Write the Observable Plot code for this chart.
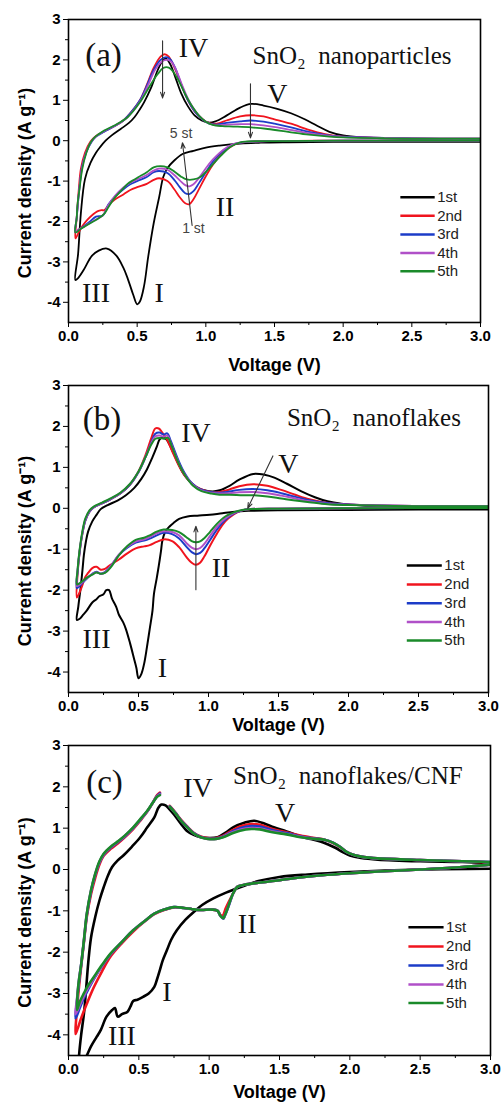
<!DOCTYPE html>
<html><head><meta charset="utf-8">
<script src="https://cdn.jsdelivr.net/npm/d3@7"></script>
<script src="https://cdn.jsdelivr.net/npm/@observablehq/plot@0.6"></script>
<style>body{margin:0;background:#fff;} #chart{width:502px;} #chart svg{display:block;overflow:visible;}</style>
</head><body><div id="chart"></div>
<script>
const cycles = ["1st", "2nd", "3rd", "4th", "5th"];
const cycleColors = ["#000000", "#f0141e", "#1c3cc8", "#b050c8", "#1a8a2a"];
const xTicks = [0, 0.5, 1.0, 1.5, 2.0, 2.5, 3.0];
const xMinorTicks = [0.25, 0.75, 1.25, 1.75, 2.25, 2.75];
const yTicks = [3, 2, 1, 0, -1, -2, -3, -4];
const yMinorTicks = [2.5, 1.5, 0.5, -0.5, -1.5, -2.5, -3.5];

// ---------- Panel (a) SnO2 nanoparticles: [voltage V, current density A/g]
const a1 = [[3.0,-0.03],[2.5,-0.03],[2.0,-0.03],[1.6,-0.04],[1.4,-0.05],[1.25,-0.07],[1.1,-0.12],[1.0,-0.17],[0.91,-0.25],[0.83,-0.33],[0.77,-0.49],[0.72,-0.68],[0.69,-0.9],[0.66,-1.4],[0.62,-2.05],[0.58,-2.88],[0.55,-3.6],[0.52,-3.98],[0.5,-4.05],[0.47,-3.8],[0.43,-3.4],[0.4,-3.15],[0.35,-2.85],[0.28,-2.67],[0.22,-2.72],[0.17,-2.85],[0.11,-3.2],[0.07,-3.4],[0.05,-3.45],
  [0.07,-2.8],[0.09,-1.8],[0.12,-0.95],[0.16,-0.55],[0.2,-0.3],[0.23,-0.16],[0.27,0.0],[0.31,0.12],[0.38,0.29],[0.44,0.44],[0.48,0.58],[0.52,0.78],[0.55,0.95],[0.6,1.3],[0.65,1.75],[0.69,2.0],[0.71,2.03],[0.74,1.9],[0.78,1.55],[0.82,1.18],[0.87,0.85],[0.92,0.62],[0.97,0.5],[1.02,0.45],[1.07,0.48],[1.15,0.62],[1.25,0.82],[1.33,0.91],[1.42,0.87],[1.52,0.79],[1.62,0.68],[1.72,0.53],[1.81,0.37],[1.9,0.22],[2.0,0.13],[2.15,0.08],[2.4,0.05],[2.7,0.04],[3.0,0.04]];
const a2 = [[3.0,0.0],[2.5,0.0],[2.0,0.0],[1.5,-0.01],[1.3,-0.03],[1.22,-0.08],[1.16,-0.2],[1.1,-0.38],[1.05,-0.6],[1.0,-0.88],[0.95,-1.2],[0.91,-1.45],[0.88,-1.57],[0.85,-1.55],[0.81,-1.4],[0.77,-1.2],[0.72,-1.0],[0.66,-0.93],[0.62,-0.97],[0.57,-1.07],[0.5,-1.15],[0.45,-1.22],[0.4,-1.33],[0.34,-1.45],[0.29,-1.6],[0.26,-1.72],[0.24,-1.72],[0.21,-1.75],[0.18,-1.82],[0.14,-1.95],[0.1,-2.12],[0.07,-2.3],[0.05,-2.42],
  [0.06,-1.9],[0.075,-1.2],[0.09,-0.7],[0.12,-0.3],[0.16,-0.02],[0.2,0.12],[0.26,0.23],[0.33,0.35],[0.4,0.5],[0.46,0.72],[0.52,1.0],[0.57,1.38],[0.62,1.8],[0.67,2.08],[0.7,2.14],[0.73,2.08],[0.77,1.82],[0.82,1.4],[0.87,1.0],[0.92,0.72],[0.97,0.55],[1.02,0.44],[1.08,0.42],[1.15,0.5],[1.25,0.6],[1.33,0.63],[1.42,0.6],[1.5,0.53],[1.62,0.42],[1.75,0.27],[1.86,0.17],[2.0,0.1],[2.3,0.07],[2.7,0.05],[3.0,0.05]];
const a3 = [[3.0,0.0],[2.0,0.0],[1.5,-0.01],[1.3,-0.03],[1.22,-0.07],[1.16,-0.17],[1.1,-0.33],[1.05,-0.52],[1.0,-0.78],[0.95,-1.05],[0.91,-1.25],[0.88,-1.32],[0.85,-1.3],[0.81,-1.15],[0.77,-0.97],[0.72,-0.8],[0.66,-0.75],[0.62,-0.78],[0.57,-0.9],[0.5,-1.0],[0.45,-1.08],[0.4,-1.2],[0.34,-1.38],[0.29,-1.58],[0.25,-1.85],[0.2,-1.88],[0.15,-2.02],[0.1,-2.15],[0.07,-2.22],[0.05,-2.27],
  [0.06,-1.9],[0.07,-1.5],[0.085,-1.0],[0.1,-0.62],[0.13,-0.28],[0.17,-0.02],[0.2,0.1],[0.26,0.22],[0.33,0.35],[0.4,0.5],[0.46,0.72],[0.52,1.0],[0.57,1.36],[0.62,1.75],[0.67,2.0],[0.71,2.07],[0.74,2.02],[0.78,1.78],[0.82,1.4],[0.87,1.0],[0.92,0.72],[0.97,0.54],[1.02,0.43],[1.08,0.4],[1.15,0.44],[1.25,0.48],[1.33,0.5],[1.42,0.47],[1.5,0.42],[1.62,0.33],[1.75,0.22],[1.88,0.14],[2.0,0.1],[2.3,0.07],[2.7,0.05],[3.0,0.05]];
const a4 = [[3.0,0.0],[2.0,0.0],[1.5,-0.01],[1.3,-0.03],[1.22,-0.06],[1.16,-0.15],[1.1,-0.3],[1.05,-0.47],[1.0,-0.68],[0.95,-0.92],[0.91,-1.08],[0.88,-1.13],[0.85,-1.1],[0.81,-0.98],[0.77,-0.85],[0.72,-0.72],[0.66,-0.69],[0.62,-0.74],[0.57,-0.85],[0.5,-0.96],[0.45,-1.04],[0.4,-1.16],[0.34,-1.36],[0.29,-1.6],[0.25,-1.85],[0.2,-1.95],[0.15,-2.05],[0.1,-2.15],[0.07,-2.2],[0.05,-2.25],
  [0.06,-1.9],[0.07,-1.5],[0.085,-1.0],[0.1,-0.65],[0.13,-0.28],[0.165,-0.03],[0.2,0.1],[0.26,0.24],[0.33,0.36],[0.42,0.55],[0.48,0.78],[0.53,1.02],[0.58,1.38],[0.63,1.75],[0.68,1.96],[0.72,2.0],[0.75,1.95],[0.79,1.7],[0.83,1.35],[0.88,0.97],[0.93,0.7],[0.98,0.52],[1.03,0.42],[1.09,0.38],[1.16,0.4],[1.25,0.41],[1.33,0.41],[1.42,0.38],[1.52,0.33],[1.63,0.26],[1.76,0.18],[1.9,0.12],[2.0,0.09],[2.3,0.07],[2.7,0.05],[3.0,0.05]];
const a5 = [[3.0,0.0],[2.0,0.0],[1.5,-0.01],[1.3,-0.02],[1.25,-0.04],[1.18,-0.15],[1.11,-0.37],[1.06,-0.55],[1.01,-0.74],[0.96,-0.9],[0.91,-0.96],[0.86,-0.96],[0.82,-0.89],[0.77,-0.76],[0.72,-0.66],[0.67,-0.63],[0.62,-0.66],[0.57,-0.78],[0.51,-0.9],[0.47,-0.98],[0.43,-1.07],[0.38,-1.25],[0.33,-1.44],[0.29,-1.65],[0.26,-1.81],[0.22,-1.92],[0.18,-2.0],[0.13,-2.1],[0.09,-2.18],[0.05,-2.27],
  [0.06,-1.9],[0.065,-1.6],[0.08,-1.2],[0.1,-0.7],[0.13,-0.3],[0.16,-0.05],[0.19,0.08],[0.26,0.25],[0.33,0.37],[0.43,0.58],[0.52,0.95],[0.6,1.4],[0.65,1.65],[0.69,1.8],[0.73,1.81],[0.76,1.72],[0.8,1.5],[0.85,1.15],[0.9,0.85],[0.95,0.62],[1.0,0.47],[1.05,0.39],[1.12,0.36],[1.2,0.35],[1.33,0.33],[1.45,0.29],[1.6,0.22],[1.75,0.15],[1.9,0.1],[2.0,0.08],[2.3,0.06],[2.7,0.05],[3.0,0.05]];

// ---------- Panel (b) SnO2 nanoflakes
const b1 = [[3.0,-0.03],[2.5,-0.03],[2.0,-0.04],[1.5,-0.05],[1.3,-0.06],[1.23,-0.07],[1.1,-0.12],[1.01,-0.16],[0.92,-0.18],[0.85,-0.2],[0.79,-0.26],[0.75,-0.36],[0.72,-0.45],[0.69,-0.58],[0.67,-0.8],[0.66,-1.06],[0.645,-1.4],[0.63,-1.71],[0.61,-2.1],[0.6,-2.5],[0.58,-2.95],[0.56,-3.4],[0.54,-3.8],[0.52,-4.05],[0.5,-4.15],[0.485,-3.9],[0.47,-3.7],[0.44,-3.3],[0.41,-2.95],[0.39,-2.78],[0.36,-2.6],[0.34,-2.4],[0.31,-2.2],[0.29,-2.0],[0.27,-2.0],[0.25,-2.1],[0.22,-2.15],[0.2,-2.22],[0.17,-2.3],[0.13,-2.5],[0.1,-2.62],[0.08,-2.7],[0.06,-2.73],
  [0.07,-2.4],[0.086,-1.96],[0.1,-1.5],[0.11,-1.14],[0.125,-0.8],[0.14,-0.57],[0.17,-0.32],[0.2,-0.16],[0.23,-0.02],[0.28,0.08],[0.35,0.19],[0.41,0.32],[0.47,0.5],[0.52,0.72],[0.56,0.95],[0.6,1.25],[0.63,1.5],[0.65,1.68],[0.67,1.73],[0.7,1.68],[0.74,1.42],[0.78,1.12],[0.82,0.85],[0.87,0.64],[0.92,0.5],[0.97,0.44],[1.03,0.41],[1.08,0.44],[1.15,0.55],[1.22,0.7],[1.32,0.84],[1.4,0.82],[1.47,0.75],[1.56,0.6],[1.66,0.42],[1.76,0.27],[1.85,0.17],[1.95,0.11],[2.1,0.07],[2.5,0.04],[3.0,0.03]];
const b2 = [[3.0,0.01],[2.5,0.01],[2.0,0.0],[1.5,-0.01],[1.3,-0.02],[1.24,-0.05],[1.18,-0.15],[1.12,-0.32],[1.06,-0.62],[1.01,-0.92],[0.97,-1.18],[0.94,-1.33],[0.91,-1.38],[0.88,-1.33],[0.84,-1.18],[0.79,-0.95],[0.74,-0.8],[0.68,-0.76],[0.63,-0.82],[0.58,-0.9],[0.54,-0.93],[0.48,-0.98],[0.42,-1.1],[0.36,-1.25],[0.3,-1.38],[0.26,-1.48],[0.23,-1.5],[0.2,-1.43],[0.17,-1.46],[0.14,-1.58],[0.12,-1.68],[0.09,-1.96],[0.06,-2.18],
  [0.065,-1.6],[0.08,-1.05],[0.1,-0.6],[0.12,-0.3],[0.15,-0.08],[0.18,0.02],[0.24,0.12],[0.3,0.22],[0.37,0.36],[0.44,0.58],[0.5,0.9],[0.55,1.3],[0.59,1.7],[0.62,1.95],[0.645,1.95],[0.67,1.85],[0.7,1.7],[0.74,1.4],[0.78,1.1],[0.83,0.8],[0.89,0.58],[0.95,0.46],[1.02,0.4],[1.08,0.4],[1.15,0.46],[1.22,0.54],[1.32,0.59],[1.42,0.55],[1.52,0.45],[1.62,0.33],[1.72,0.22],[1.82,0.15],[1.95,0.1],[2.2,0.07],[2.6,0.05],[3.0,0.05]];
const b3 = [[3.0,0.01],[2.0,0.0],[1.5,-0.01],[1.3,-0.02],[1.24,-0.05],[1.18,-0.13],[1.12,-0.28],[1.06,-0.52],[1.01,-0.78],[0.97,-0.98],[0.94,-1.09],[0.91,-1.12],[0.88,-1.07],[0.84,-0.93],[0.79,-0.74],[0.74,-0.63],[0.68,-0.6],[0.63,-0.66],[0.58,-0.74],[0.54,-0.79],[0.48,-0.84],[0.42,-0.96],[0.36,-1.14],[0.3,-1.42],[0.26,-1.56],[0.23,-1.6],[0.2,-1.55],[0.17,-1.6],[0.13,-1.72],[0.1,-1.82],[0.08,-1.9],[0.06,-1.95],
  [0.065,-1.55],[0.08,-1.05],[0.1,-0.6],[0.12,-0.3],[0.15,-0.08],[0.18,0.02],[0.24,0.12],[0.3,0.22],[0.37,0.36],[0.44,0.58],[0.5,0.88],[0.55,1.25],[0.59,1.6],[0.62,1.82],[0.65,1.85],[0.68,1.8],[0.705,1.83],[0.73,1.65],[0.77,1.3],[0.82,0.92],[0.88,0.62],[0.94,0.47],[1.01,0.4],[1.08,0.38],[1.15,0.41],[1.22,0.45],[1.32,0.47],[1.42,0.44],[1.52,0.37],[1.62,0.28],[1.72,0.2],[1.82,0.14],[1.95,0.1],[2.2,0.07],[2.6,0.05],[3.0,0.05]];
const b4 = [[3.0,0.01],[2.0,0.0],[1.5,-0.01],[1.3,-0.02],[1.24,-0.05],[1.18,-0.12],[1.12,-0.25],[1.06,-0.45],[1.01,-0.68],[0.97,-0.87],[0.94,-0.97],[0.91,-1.0],[0.88,-0.96],[0.84,-0.84],[0.79,-0.66],[0.74,-0.58],[0.68,-0.56],[0.63,-0.61],[0.58,-0.7],[0.54,-0.76],[0.48,-0.81],[0.42,-0.94],[0.36,-1.13],[0.3,-1.42],[0.26,-1.57],[0.23,-1.6],[0.2,-1.56],[0.17,-1.61],[0.13,-1.71],[0.1,-1.8],[0.08,-1.86],[0.06,-1.9],
  [0.065,-1.5],[0.08,-1.02],[0.1,-0.58],[0.12,-0.28],[0.15,-0.07],[0.18,0.03],[0.24,0.13],[0.3,0.23],[0.37,0.37],[0.44,0.59],[0.5,0.89],[0.55,1.25],[0.59,1.58],[0.62,1.76],[0.65,1.78],[0.68,1.75],[0.705,1.78],[0.73,1.6],[0.77,1.25],[0.82,0.88],[0.88,0.6],[0.94,0.45],[1.01,0.38],[1.08,0.36],[1.15,0.37],[1.22,0.39],[1.32,0.4],[1.42,0.37],[1.52,0.31],[1.62,0.24],[1.72,0.17],[1.82,0.12],[1.95,0.09],[2.2,0.07],[2.6,0.05],[3.0,0.05]];
const b5 = [[3.0,0.01],[2.0,0.0],[1.5,-0.01],[1.3,-0.02],[1.24,-0.04],[1.18,-0.1],[1.12,-0.2],[1.06,-0.38],[1.01,-0.58],[0.97,-0.73],[0.94,-0.81],[0.91,-0.83],[0.88,-0.8],[0.84,-0.7],[0.79,-0.58],[0.74,-0.53],[0.68,-0.52],[0.63,-0.57],[0.58,-0.66],[0.54,-0.72],[0.48,-0.77],[0.42,-0.92],[0.36,-1.15],[0.3,-1.45],[0.26,-1.58],[0.23,-1.6],[0.2,-1.57],[0.17,-1.62],[0.13,-1.7],[0.1,-1.78],[0.08,-1.83],[0.06,-1.86],
  [0.065,-1.5],[0.08,-1.0],[0.1,-0.55],[0.12,-0.25],[0.15,-0.05],[0.18,0.04],[0.24,0.14],[0.3,0.24],[0.37,0.38],[0.44,0.6],[0.5,0.9],[0.55,1.25],[0.59,1.55],[0.62,1.7],[0.65,1.72],[0.68,1.7],[0.71,1.72],[0.74,1.5],[0.78,1.15],[0.83,0.82],[0.89,0.55],[0.95,0.42],[1.02,0.36],[1.08,0.33],[1.15,0.33],[1.25,0.32],[1.32,0.32],[1.42,0.29],[1.52,0.24],[1.62,0.19],[1.72,0.15],[1.85,0.1],[2.0,0.08],[2.5,0.05],[3.0,0.05]];

// ---------- Panel (c) SnO2 nanoflakes/CNF (NaN = gap in the trace)
const c1 = [[3.0,0.02],[2.5,0.0],[2.0,-0.06],[1.7,-0.12],[1.5,-0.18],[1.35,-0.28],[1.22,-0.43],[1.12,-0.56],[1.03,-0.7],[0.95,-0.86],[0.89,-1.03],[0.83,-1.22],[0.77,-1.47],[0.73,-1.7],[0.7,-1.95],[0.67,-2.2],[0.65,-2.43],[0.63,-2.65],[0.61,-2.84],[0.57,-3.0],[0.53,-3.08],[0.49,-3.15],[0.46,-3.18],[0.44,-3.32],[0.42,-3.44],[0.38,-3.5],[0.35,-3.56],[0.33,-3.35],[0.31,-3.4],[0.27,-3.56],[0.23,-3.88],[0.2,-4.05],[0.16,-4.28],[0.13,-4.5],[0.1,-4.7],[0.07,-4.85],
  [0.075,-4.5],[0.09,-4.0],[0.11,-3.48],[0.125,-2.9],[0.14,-2.27],[0.16,-1.65],[0.19,-1.15],[0.22,-0.75],[0.25,-0.43],[0.28,-0.15],[0.31,0.06],[0.35,0.22],[0.39,0.34],[0.45,0.55],[0.51,0.78],[0.56,1.02],[0.61,1.26],[0.64,1.5],[0.66,1.57],[0.69,1.55],[0.72,1.45],[0.75,1.33],[0.8,1.1],[0.84,0.94],[0.89,0.84],[0.94,0.78],[1.0,0.76],[1.06,0.78],[1.12,0.9],[1.17,1.02],[1.25,1.13],[1.32,1.18],[1.4,1.1],[1.46,1.02],[1.55,0.92],[1.65,0.8],[1.72,0.74],[1.79,0.68],[1.85,0.6],[1.9,0.52],[1.95,0.42],[2.0,0.34],[2.08,0.28],[2.2,0.24],[2.5,0.2],[2.8,0.18],[3.0,0.15]];
const c2 = [[3.0,0.12],[2.8,0.06],[2.5,0.0],[2.2,-0.05],[2.0,-0.09],[1.8,-0.14],[1.6,-0.21],[1.5,-0.26],[1.35,-0.32],[1.25,-0.37],[1.2,-0.42],[1.16,-0.65],[1.12,-0.92],[1.095,-1.12],[1.08,-1.1],[1.06,-1.0],[1.02,-0.97],[0.94,-0.98],[0.88,-0.96],[0.82,-0.93],[0.75,-0.92],[0.68,-0.98],[0.61,-1.08],[0.54,-1.26],[0.46,-1.5],[0.38,-1.78],[0.3,-2.1],[0.24,-2.45],[0.18,-2.85],[0.13,-3.25],[0.09,-3.6],[0.065,-3.85],[0.05,-3.98],
  [0.055,-3.6],[0.07,-3.0],[0.09,-2.35],[0.11,-1.75],[0.13,-1.15],[0.16,-0.6],[0.19,-0.2],[0.22,0.12],[0.25,0.33],[0.3,0.5],[0.35,0.63],[0.4,0.78],[0.46,0.98],[0.51,1.18],[0.56,1.4],[0.6,1.62],[0.63,1.8],[0.65,1.86],[0.68,NaN],[0.72,1.54],[0.76,1.38],[0.8,1.2],[0.85,1.02],[0.89,0.89],[0.94,0.8],[0.99,0.76],[1.05,0.76],[1.1,0.82],[1.16,0.94],[1.22,1.04],[1.3,1.1],[1.36,1.08],[1.45,0.98],[1.55,0.9],[1.65,0.82],[1.75,0.76],[1.82,0.72],[1.88,0.64],[1.93,0.54],[1.98,0.42],[2.03,0.35],[2.1,0.3],[2.2,0.27],[2.5,0.23],[2.8,0.2],[3.0,0.17]];
const c3 = [[3.0,0.12],[2.8,0.06],[2.5,0.0],[2.2,-0.05],[2.0,-0.09],[1.8,-0.14],[1.6,-0.21],[1.5,-0.26],[1.35,-0.32],[1.25,-0.37],[1.2,-0.42],[1.17,-0.58],[1.15,-0.77],[1.13,-0.96],[1.11,-1.13],[1.1,-1.19],[1.08,-1.12],[1.06,-1.0],[1.02,-0.97],[0.94,-0.98],[0.88,-0.96],[0.82,-0.93],[0.75,-0.91],[0.68,-0.97],[0.61,-1.07],[0.54,-1.25],[0.46,-1.47],[0.38,-1.75],[0.3,-2.05],[0.24,-2.33],[0.18,-2.65],[0.14,-2.9],[0.11,-3.1],[0.08,-3.35],[0.05,-3.6],
  [0.06,-3.2],[0.075,-2.7],[0.09,-2.3],[0.11,-1.72],[0.13,-1.1],[0.16,-0.53],[0.19,-0.13],[0.22,0.17],[0.25,0.36],[0.3,0.53],[0.35,0.66],[0.4,0.8],[0.46,1.0],[0.51,1.2],[0.56,1.41],[0.6,1.62],[0.63,1.78],[0.65,1.84],[0.68,NaN],[0.72,1.53],[0.76,1.37],[0.8,1.19],[0.85,1.01],[0.89,0.88],[0.94,0.79],[0.99,0.75],[1.05,0.75],[1.1,0.8],[1.16,0.91],[1.22,1.0],[1.3,1.05],[1.36,1.04],[1.45,0.95],[1.55,0.88],[1.65,0.8],[1.75,0.75],[1.82,0.72],[1.88,0.65],[1.93,0.55],[1.98,0.42],[2.03,0.35],[2.1,0.3],[2.2,0.27],[2.5,0.23],[2.8,0.2],[3.0,0.18]];
const c4 = [[3.0,0.12],[2.8,0.06],[2.5,0.0],[2.2,-0.05],[2.0,-0.09],[1.8,-0.14],[1.6,-0.21],[1.5,-0.26],[1.35,-0.32],[1.25,-0.37],[1.2,-0.42],[1.17,-0.58],[1.15,-0.76],[1.13,-0.95],[1.11,-1.12],[1.1,-1.18],[1.08,-1.12],[1.06,-1.0],[1.02,-0.97],[0.94,-0.98],[0.88,-0.96],[0.82,-0.93],[0.75,-0.91],[0.68,-0.97],[0.61,-1.07],[0.54,-1.25],[0.46,-1.47],[0.38,-1.75],[0.3,-2.04],[0.24,-2.32],[0.18,-2.63],[0.14,-2.86],[0.11,-3.05],[0.08,-3.28],[0.05,-3.5],
  [0.06,-3.15],[0.075,-2.65],[0.09,-2.3],[0.11,-1.71],[0.13,-1.08],[0.16,-0.51],[0.19,-0.11],[0.22,0.18],[0.25,0.37],[0.3,0.54],[0.35,0.67],[0.4,0.81],[0.46,1.01],[0.51,1.21],[0.56,1.41],[0.6,1.62],[0.63,1.77],[0.65,1.82],[0.68,NaN],[0.72,1.52],[0.76,1.36],[0.8,1.18],[0.85,1.0],[0.89,0.87],[0.94,0.78],[0.99,0.74],[1.05,0.74],[1.1,0.79],[1.16,0.89],[1.22,0.96],[1.3,1.0],[1.36,0.99],[1.45,0.92],[1.55,0.86],[1.65,0.79],[1.75,0.74],[1.82,0.72],[1.88,0.65],[1.93,0.55],[1.98,0.42],[2.03,0.35],[2.1,0.3],[2.2,0.27],[2.5,0.23],[2.8,0.2],[3.0,0.18]];
const c5 = [[3.0,0.12],[2.8,0.06],[2.5,0.0],[2.2,-0.05],[2.0,-0.09],[1.8,-0.14],[1.6,-0.21],[1.5,-0.26],[1.35,-0.32],[1.25,-0.37],[1.2,-0.42],[1.17,-0.58],[1.15,-0.75],[1.13,-0.95],[1.11,-1.12],[1.1,-1.18],[1.08,-1.12],[1.06,-1.0],[1.02,-0.97],[0.94,-0.98],[0.88,-0.96],[0.82,-0.93],[0.75,-0.91],[0.68,-0.97],[0.61,-1.07],[0.54,-1.25],[0.46,-1.47],[0.38,-1.75],[0.3,-2.03],[0.24,-2.3],[0.18,-2.6],[0.14,-2.8],[0.11,-2.99],[0.08,-3.2],[0.06,-3.4],
  [0.07,-2.8],[0.09,-2.3],[0.11,-1.7],[0.13,-1.07],[0.16,-0.5],[0.19,-0.1],[0.22,0.2],[0.25,0.38],[0.3,0.55],[0.35,0.68],[0.4,0.82],[0.46,1.02],[0.51,1.22],[0.56,1.42],[0.6,1.62],[0.63,1.76],[0.65,1.8],[0.68,NaN],[0.72,1.52],[0.76,1.36],[0.8,1.18],[0.85,1.0],[0.89,0.87],[0.94,0.78],[0.99,0.74],[1.05,0.74],[1.1,0.78],[1.16,0.87],[1.22,0.94],[1.3,0.98],[1.36,0.97],[1.45,0.9],[1.55,0.85],[1.65,0.78],[1.75,0.74],[1.82,0.72],[1.88,0.65],[1.93,0.55],[1.98,0.42],[2.03,0.35],[2.1,0.3],[2.2,0.27],[2.5,0.23],[2.8,0.2],[3.0,0.18]];

// ---------- Annotations (text, voltage, current)
const nameA = [{t: "SnO\u2082  nanoparticles", v: 1.34, i: 2.1}];
const labelsA = [{t: "(a)", v: 0.255, i: 2.1, s: 33}, {t: "IV", v: 0.91, i: 2.3, s: 28}, {t: "V", v: 1.52, i: 1.16, s: 28}, {t: "III", v: 0.2, i: -3.78, s: 28}, {t: "I", v: 0.66, i: -3.78, s: 28}, {t: "II", v: 1.14, i: -1.65, s: 28}];
const smallA = [{t: "5 st", v: 0.82, i: 0.17}, {t: "1 st", v: 0.91, i: -2.17}];
const arrowsA = [{v1: 0.685, i1: 2.47, v2: 0.685, i2: 1.06}, {v1: 1.325, i1: 1.41, v2: 1.325, i2: 0.07}, {v1: 0.90, i1: -2.1, v2: 0.83, i2: -0.05}];
const nameB = [{t: "SnO\u2082  nanoflakes", v: 1.56, i: 2.21}];
const labelsB = [{t: "(b)", v: 0.24, i: 2.16, s: 33}, {t: "IV", v: 0.91, i: 1.84, s: 28}, {t: "V", v: 1.57, i: 1.08, s: 28}, {t: "II", v: 1.09, i: -1.45, s: 28}, {t: "III", v: 0.2, i: -3.19, s: 28}, {t: "I", v: 0.67, i: -3.9, s: 28}];
const arrowsB = [{v1: 1.46, i1: 1.28, v2: 1.28, i2: 0.0}, {v1: 0.91, i1: -1.99, v2: 0.91, i2: -0.44}];
const nameC = [{t: "SnO\u2082  nanoflakes/CNF", v: 1.17, i: 2.27}];
const labelsC = [{t: "(c)", v: 0.256, i: 2.1, s: 33}, {t: "IV", v: 0.92, i: 1.98, s: 28}, {t: "V", v: 1.54, i: 1.37, s: 28}, {t: "II", v: 1.27, i: -1.33, s: 28}, {t: "I", v: 0.70, i: -2.96, s: 28}, {t: "III", v: 0.38, i: -4.02, s: 28}];
const legendV = [2.42, 2.67];
const legendI = [-1.40, -1.86, -2.32, -2.78, -3.23];

function toRows(series) {
  const rows = [];
  series.forEach((pts, k) => pts.forEach(([v, i]) => rows.push({cycle: cycles[k], v, i})));
  return rows;
}

const serif = "'Liberation Serif', 'Times New Roman', serif";

function panel({series, name, labels, small = [], arrows = [], layout, lineWidth}) {
  const rows = toRows(series);
  const legend = cycles.map((c, k) => ({cycle: c, i: legendI[k]}));
  return Plot.plot({
    width: 502,
    height: layout.height,
    marginLeft: 68, marginRight: layout.right, marginTop: layout.top, marginBottom: layout.bottom,
    style: {fontFamily: "'Liberation Sans', Arial, sans-serif", background: "transparent", color: "#000", overflow: "visible"},
    x: {domain: [0, 3]},
    y: {domain: [-4.5, 3]},
    color: {domain: cycles, range: cycleColors},
    marks: [
      Plot.line(rows, {x: "v", y: "i", z: "cycle", stroke: "cycle", curve: "catmull-rom", strokeWidth: lineWidth, clip: true}),
      Plot.ruleY(legend, {y: "i", x1: legendV[0], x2: legendV[1], stroke: "cycle", strokeWidth: 2.5}),
      Plot.text(legend, {y: "i", x: legendV[1], text: "cycle", textAnchor: "start", dx: 2, fontSize: 15, fill: "#222"}),
      Plot.arrow(arrows, {x1: "v1", y1: "i1", x2: "v2", y2: "i2", stroke: "#333", strokeWidth: 1.1, headLength: 8, headAngle: 40}),
      Plot.text(labels, {x: "v", y: "i", text: "t", fontSize: "s", textAnchor: "middle", fontFamily: serif, fill: "#111"}),
      Plot.text(name, {x: "v", y: "i", text: "t", fontSize: 25, textAnchor: "start", fontFamily: serif, fill: "#111"}),
      Plot.text(small, {x: "v", y: "i", text: "t", fontSize: 14, fill: "#444"}),
      Plot.frame({stroke: "#000", strokeWidth: 1.6}),
      Plot.axisX({ticks: xTicks, tickFormat: d => d.toFixed(1), tickSize: 5, tickPadding: 3, fontSize: 15, fontWeight: "bold", label: null}),
      Plot.axisX({ticks: xMinorTicks, tickFormat: () => "", tickSize: 3, label: null}),
      Plot.axisY({ticks: yTicks, tickFormat: d => String(d), tickSize: 5, tickPadding: 3, fontSize: 15, fontWeight: "bold", label: null}),
      Plot.axisY({ticks: yMinorTicks, tickFormat: () => "", tickSize: 3, label: null}),
      Plot.text(["Voltage (V)"], {frameAnchor: "bottom", dy: layout.xlab, fontSize: 18, fontWeight: "bold", lineAnchor: "middle", textAnchor: "middle"}),
      Plot.text(["Current density (A g\u207B\u00B9)"], {frameAnchor: "left", rotate: -90, dx: -43, dy: 12, fontSize: 18, fontWeight: "bold", lineAnchor: "middle", textAnchor: "middle"})
    ]
  });
}

const chart = document.getElementById("chart");
chart.append(panel({series: [a1, a2, a3, a4, a5], name: nameA, labels: labelsA, small: smallA, arrows: arrowsA, lineWidth: 1.8,
  layout: {height: 376, top: 19, bottom: 54, right: 22, xlab: 43}}));
chart.append(panel({series: [b1, b2, b3, b4, b5], name: nameB, labels: labelsB, arrows: arrowsB, lineWidth: 2,
  layout: {height: 360, top: 9, bottom: 44, right: 14, xlab: 33}}));
chart.append(panel({series: [c1, c2, c3, c4, c5], name: nameC, labels: labelsC, lineWidth: 2.6,
  layout: {height: 369, top: 9, bottom: 50, right: 12, xlab: 37}}));
</script>
</body></html>
